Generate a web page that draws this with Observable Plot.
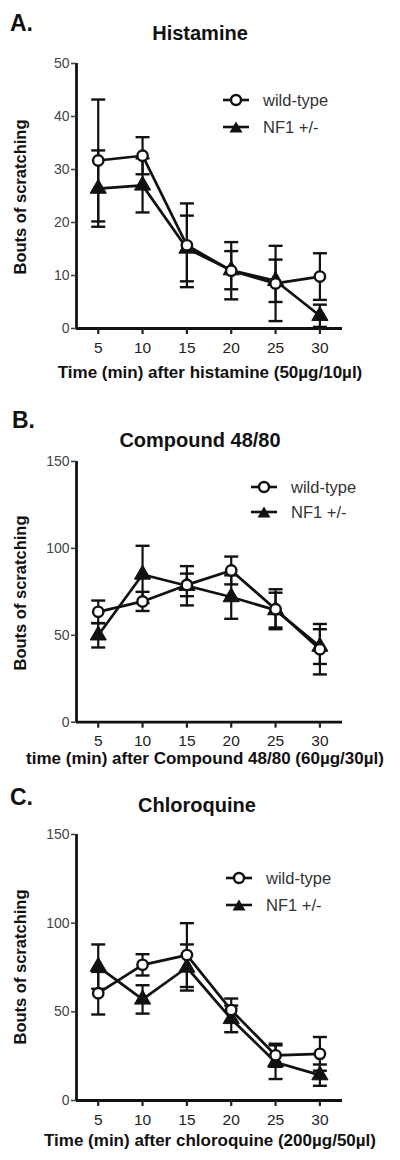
<!DOCTYPE html>
<html>
<head>
<meta charset="utf-8">
<script src="https://cdn.jsdelivr.net/npm/d3@7"></script>
<script src="https://cdn.jsdelivr.net/npm/@observablehq/plot@0.6"></script>
<style>
  html, body { margin: 0; padding: 0; background: white; }
  #root { position: relative; width: 400px; height: 1160px; font-family: "Liberation Sans", Arial, sans-serif; color: #111; overflow: hidden; }
  .abs { position: absolute; white-space: nowrap; line-height: 1; }
  .c { transform: translate(-50%, -50%); }
  .lbl { font-weight: bold; }
  .ylab { transform: translate(-50%, -50%) rotate(-90deg); font-weight: bold; font-size: 16.5px; }
  .leg { font-size: 16.5px; color: #333; transform: translateY(-50%); }
  .plotwrap { position: absolute; left: 0; }
  .plotwrap svg { background: transparent !important; }
</style>
</head>
<body>
<div id="root"></div>
<script>
// ---- data ----
const time = [5, 10, 15, 20, 25, 30];

const histWT     = [31.7, 32.6, 15.7, 10.9, 8.5, 9.8];
const histWTerr  = [11.5, 3.5, 7.9, 5.4, 7.1, 4.4];
const histNF1    = [26.4, 27.0, 15.1, 11.0, 9.0, 2.4];
const histNF1err = [7.2, 5.1, 6.2, 3.6, 4.0, 2.1];

const c48WT     = [63.5, 69.5, 79.0, 87.3, 65.0, 42.0];
const c48WTerr  = [6.5, 5.5, 6.5, 8.0, 11.5, 14.5];
const c48NF1    = [50.0, 85.0, 78.5, 72.0, 64.5, 43.5];
const c48NF1err = [7.0, 16.5, 11.3, 12.5, 10.0, 10.0];

const chlWT     = [60.5, 76.5, 82.0, 51.0, 25.5, 26.3];
const chlWTerr  = [12.0, 6.0, 18.0, 6.5, 6.5, 9.5];
const chlNF1    = [75.5, 57.0, 75.0, 46.0, 21.6, 14.3];
const chlNF1err = [12.5, 8.0, 13.0, 7.5, 9.5, 6.0];

const ticksA = [0, 10, 20, 30, 40, 50];
const ticksBC = [0, 50, 100, 150];

const seriesNames = ["wild-type", "NF1 +/-"];

// ---- helpers ----
const root = document.getElementById("root");
function addText(html, cls, style) {
  const d = document.createElement("div");
  d.className = "abs " + cls;
  d.innerHTML = html;
  Object.assign(d.style, style);
  root.appendChild(d);
  return d;
}

const capSymbol = {
  draw(ctx, size) {
    const r = Math.sqrt(size / Math.PI);
    ctx.moveTo(-r, 0);
    ctx.lineTo(r, 0);
  }
};

function rowsOf(m, e, g) {
  return time.map((t, i) => ({t, m: m[i], e: e[i], g}));
}

function makePanel(cfg) {
  const wt = rowsOf(cfg.wt, cfg.wtErr, seriesNames[0]);
  const nf = rowsOf(cfg.nf, cfg.nfErr, seriesNames[1]);
  const all = wt.concat(nf);
  const caps = all.flatMap(d => [{t: d.t, v: d.m - d.e}, {t: d.t, v: d.m + d.e}]);
  const xDom = [2.55, 32.55];
  const plot = Plot.plot({
    width: 400,
    height: cfg.height,
    marginLeft: 76,
    marginRight: 58,
    marginTop: cfg.mt,
    marginBottom: cfg.mb,
    style: {fontFamily: '"Liberation Sans", Arial, sans-serif', background: "transparent", overflow: "visible"},
    x: {domain: xDom},
    y: {domain: [0, cfg.ymax]},
    marks: [
      Plot.ruleX(all, {x: "t", y1: d => d.m - d.e, y2: d => d.m + d.e, stroke: "#111", strokeWidth: 2.2}),
      Plot.dot(caps, {x: "t", y: "v", symbol: capSymbol, r: 7, stroke: "#111", strokeWidth: 2.4}),
      Plot.line(all, {x: "t", y: "m", z: "g", stroke: "#111", strokeWidth: 2.7}),
      Plot.dot(nf, {x: "t", y: "m", symbol: "triangle", r: 6, fill: "#111", stroke: "#111", strokeWidth: 1}),
      Plot.dot(wt, {x: "t", y: "m", r: 5.2, fill: "white", stroke: "#111", strokeWidth: 2.4}),
      Plot.ruleY([0], {stroke: "#111", strokeWidth: 2.8}),
      Plot.ruleX([xDom[0]], {stroke: "#111", strokeWidth: 2.8}),
      Plot.axisX({ticks: time, tickFormat: d => d, tickSize: 6, tickPadding: 7, fontSize: 15.5, strokeWidth: 2.2, color: "#222", label: null}),
      Plot.axisY({ticks: cfg.yTicks, tickFormat: d => d, tickSize: 5, tickPadding: 2, fontSize: 14, strokeWidth: 1.6, color: "#444", label: null})
    ]
  });
  const wrap = document.createElement("div");
  wrap.className = "plotwrap";
  wrap.style.top = cfg.top + "px";
  wrap.appendChild(plot);
  root.appendChild(wrap);

  // panel letter, title, axis labels
  addText(cfg.letter, "lbl", {left: cfg.letterX + "px", top: cfg.letterY + "px", fontSize: "23px", transform: "translateY(-50%)"});
  addText(cfg.title, "lbl c", {left: cfg.titleX + "px", top: cfg.titleY + "px", fontSize: "20px"});
  addText(cfg.xlabel, "lbl c", {left: cfg.xlabX + "px", top: cfg.xlabY + "px", fontSize: "17px"});
  addText("Bouts of scratching", "ylab", {left: "20px", top: cfg.ylabY + "px"});

  // legend
  const legSym = [
    '<svg width="28" height="14" style="display:block"><line x1="1" y1="7" x2="27" y2="7" stroke="#111" stroke-width="2.6"/><circle cx="14" cy="7" r="5" fill="white" stroke="#111" stroke-width="2.4"/></svg>',
    '<svg width="28" height="14" style="display:block"><line x1="1" y1="7" x2="27" y2="7" stroke="#111" stroke-width="2.6"/><path d="M14,1.5 L20.5,12.5 L7.5,12.5 Z" fill="#111"/></svg>'
  ];
  seriesNames.forEach((name, i) => {
    const y = cfg.legY + i * cfg.legGap;
    addText(legSym[i], "", {left: (cfg.legX - 14) + "px", top: (y - 7) + "px"});
    addText(name, "leg", {left: (cfg.legX + 27) + "px", top: y + "px"});
  });
}

makePanel({
  top: 0, height: 385, mt: 63, mb: 57, ymax: 50, yTicks: ticksA,
  wt: histWT, wtErr: histWTerr, nf: histNF1, nfErr: histNF1err,
  letter: "A.", letterX: 10, letterY: 23,
  title: "Histamine", titleX: 200, titleY: 33,
  xlabel: "Time (min) after histamine (50µg/10µl)", xlabX: 210, xlabY: 372,
  ylabY: 197, legX: 236, legY: 100, legGap: 27
});

makePanel({
  top: 385, height: 385, mt: 76, mb: 48.3, ymax: 150, yTicks: ticksBC,
  wt: c48WT, wtErr: c48WTerr, nf: c48NF1, nfErr: c48NF1err,
  letter: "B.", letterX: 12, letterY: 420,
  title: "Compound 48/80", titleX: 200, titleY: 440,
  xlabel: "time (min) after Compound 48/80 (60µg/30µl)", xlabX: 205, xlabY: 758,
  ylabY: 593, legX: 264, legY: 487, legGap: 25
});

makePanel({
  top: 770, height: 390, mt: 64, mb: 60, ymax: 150, yTicks: ticksBC,
  wt: chlWT, wtErr: chlWTerr, nf: chlNF1, nfErr: chlNF1err,
  letter: "C.", letterX: 10, letterY: 797,
  title: "Chloroquine", titleX: 197, titleY: 805,
  xlabel: "Time (min) after chloroquine (200µg/50µl)", xlabX: 210, xlabY: 1140,
  ylabY: 967, legX: 239, legY: 878, legGap: 27
});
</script>
</body>
</html>
